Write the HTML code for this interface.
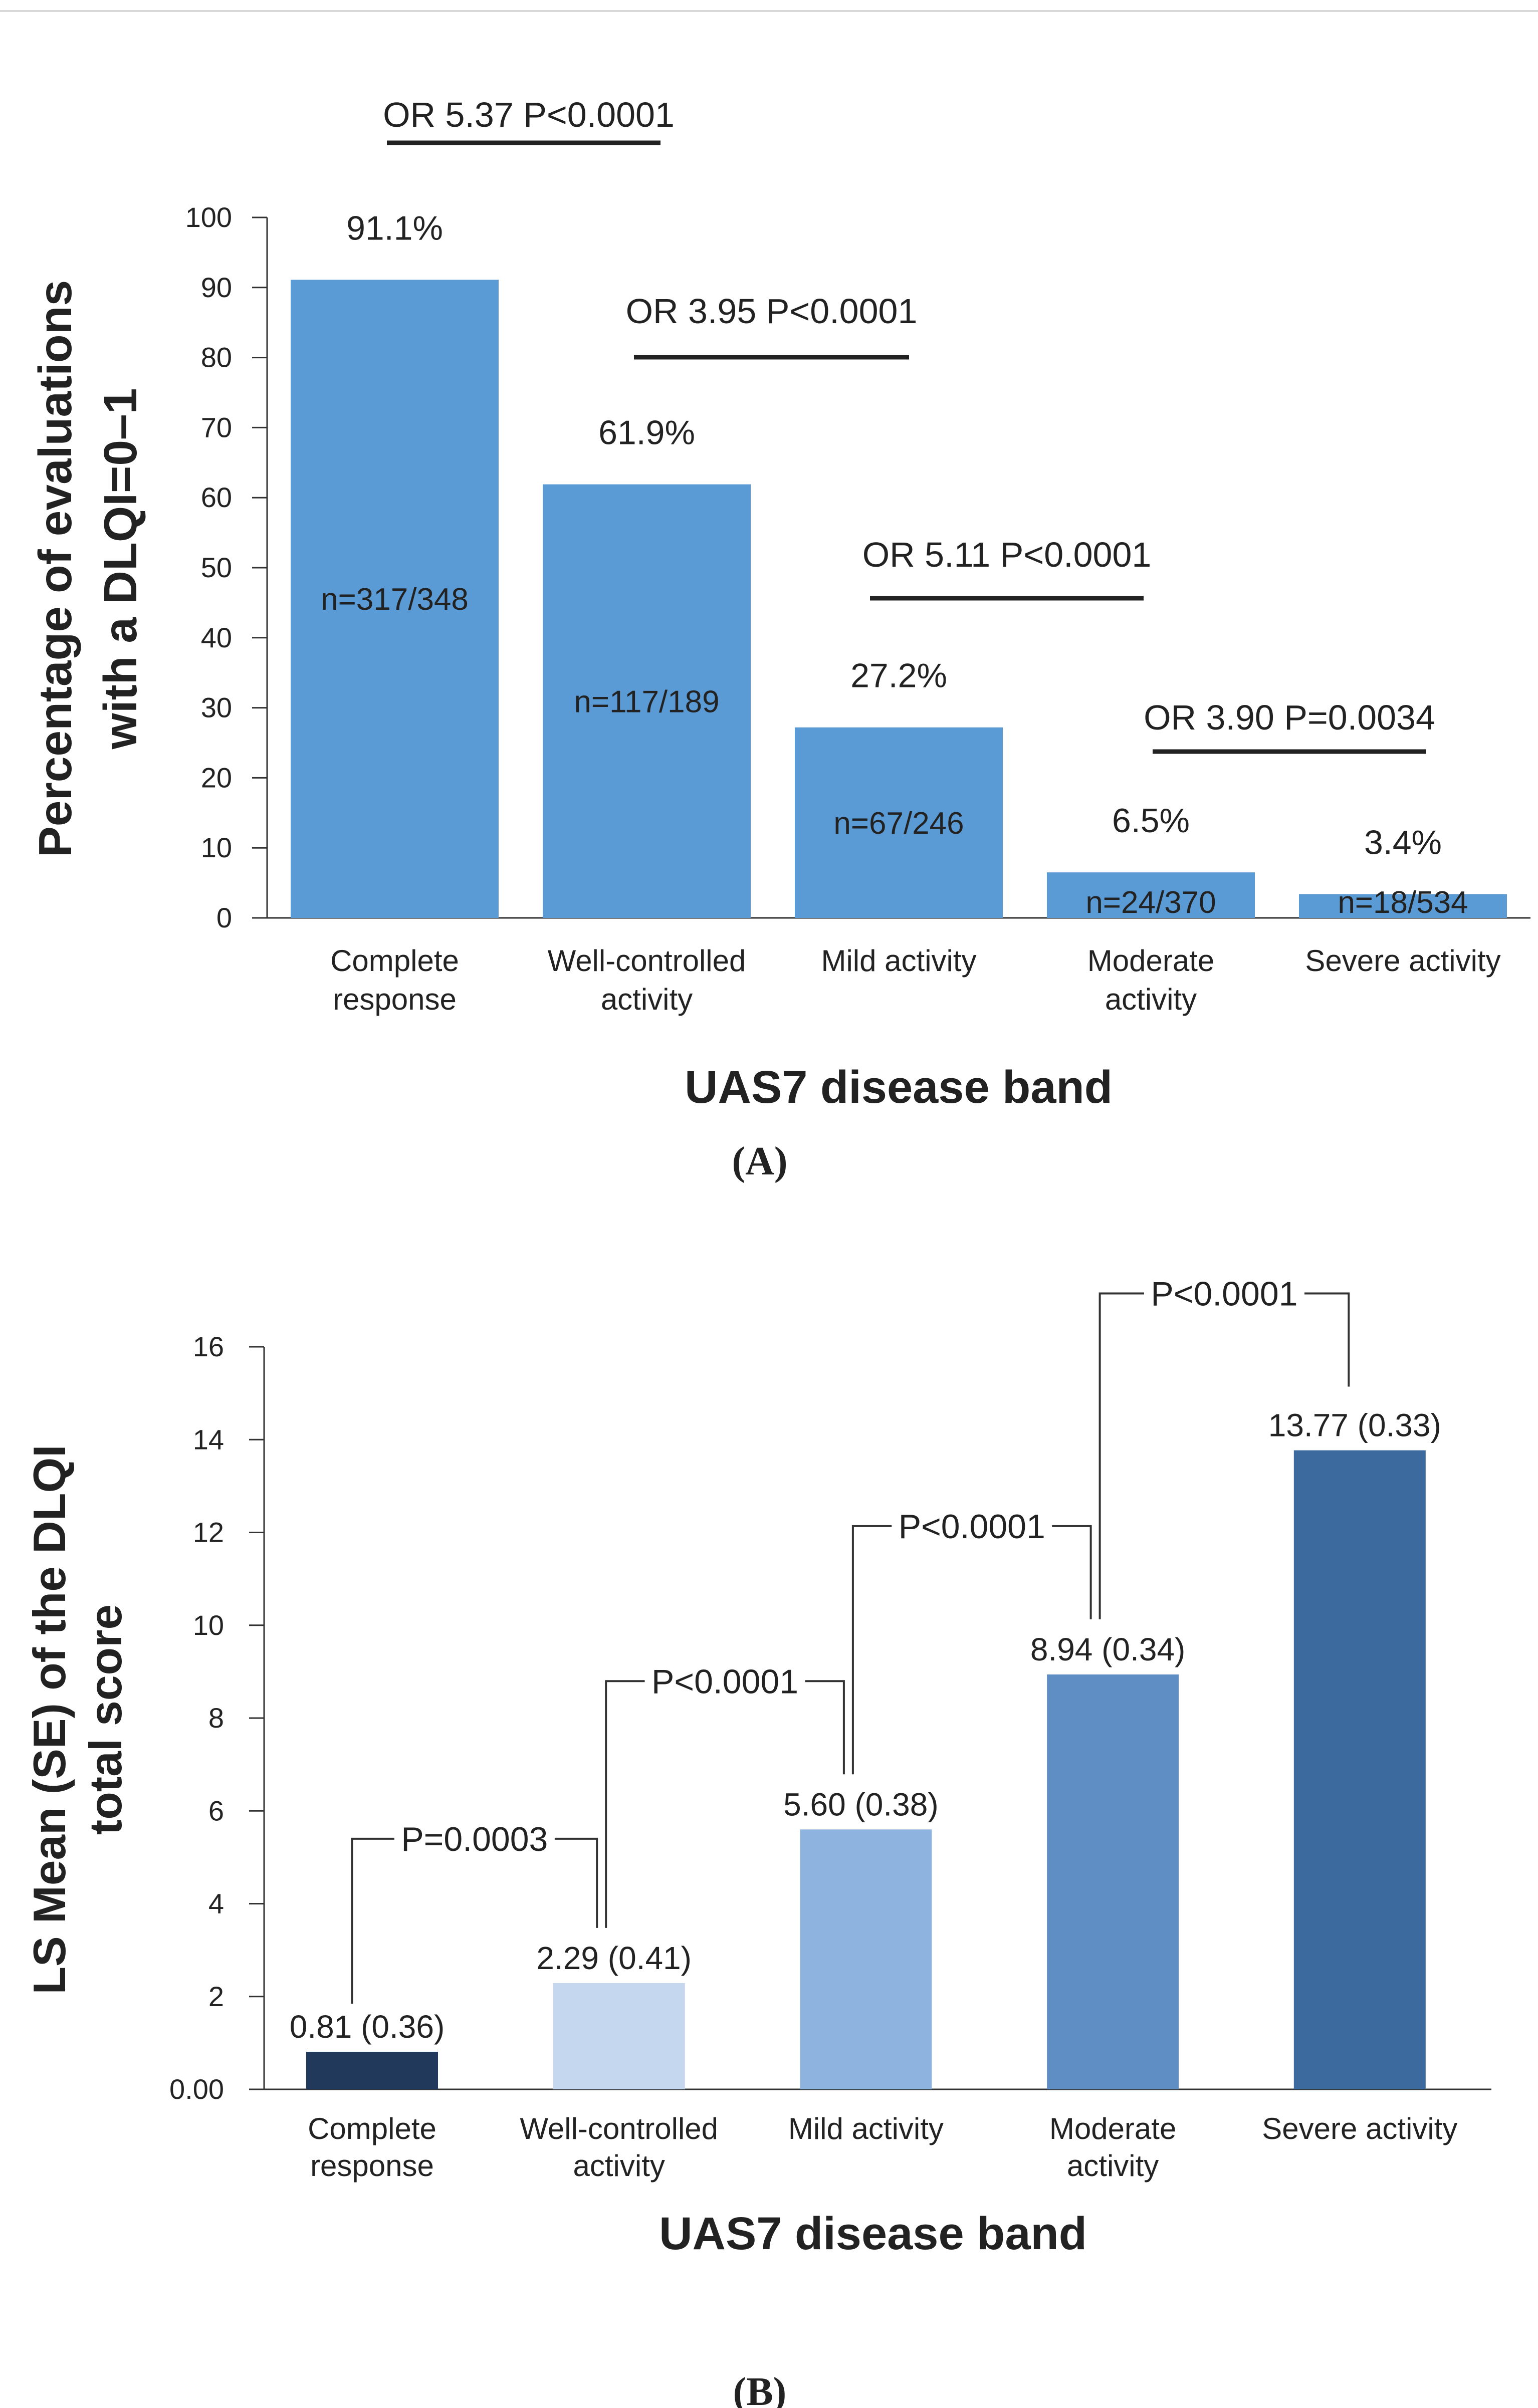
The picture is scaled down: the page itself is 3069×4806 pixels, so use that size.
<!DOCTYPE html>
<html><head><meta charset="utf-8"><style>
html,body{margin:0;padding:0;background:#fff}
svg{display:block}
text{font-family:"Liberation Sans",Arial,sans-serif;fill:#222}
</style></head><body>
<svg id="s" width="3069" height="4806" viewBox="0 0 3069 4806" xmlns="http://www.w3.org/2000/svg">
<line x1="0" y1="22" x2="3069" y2="22" stroke="#d8d8d8" stroke-width="4"/>
<g id="A"></g>
<g id="B"></g>
</svg>
<script>
const catsA = [["Complete","response"],["Well-controlled","activity"],["Mild activity"],["Moderate","activity"],["Severe activity"]];
const valuesA = [91.1, 61.9, 27.2, 6.5, 3.4];
const valueLabelsA = ["91.1%","61.9%","27.2%","6.5%","3.4%"];
const nLabelsA = ["n=317/348","n=117/189","n=67/246","n=24/370","n=18/534"];
const ticksA = [0,10,20,30,40,50,60,70,80,90,100];
const orLabelsA = ["OR 5.37 P<0.0001","OR 3.95 P<0.0001","OR 5.11 P<0.0001","OR 3.90 P=0.0034"];

const catsB = catsA;
const valuesB = [0.81, 2.29, 5.60, 8.94, 13.77];
const seB = ["0.36","0.41","0.38","0.34","0.33"];
const ticksB = [0,2,4,6,8,10,12,14,16];
const pLabelsB = ["P=0.0003","P<0.0001","P<0.0001","P<0.0001"];
const colorsB = ["#213a5c","#c5d6ef","#8db3de","#5f8ec5","#3d6a9e"];

const NS="http://www.w3.org/2000/svg";
function mk(parent,tag,attrs,txt){const e=document.createElementNS(NS,tag);for(const k in attrs)e.setAttribute(k,attrs[k]);if(txt!==undefined)e.textContent=txt;parent.appendChild(e);return e;}

// ---------- Chart A ----------
(function(){
const g=document.getElementById('A');
const x0=533, y0=1832, yTop=434, xEnd=3054;
const yA=v=>y0-(v/100)*(y0-yTop);
const step=503, bw=415, firstL=580;
const bx=i=>firstL+i*step;
const cx=i=>bx(i)+bw/2;
let e=mk(g,'line',{x1:x0,y1:yTop,x2:x0,y2:y0,stroke:'#333','stroke-width':3});

e=mk(g,'line',{x1:x0-30,y1:y0,x2:xEnd,y2:y0,stroke:'#333','stroke-width':3});

ticksA.forEach(t=>{
 const y=yA(t);
 let l=mk(g,'line',{x1:x0-30,y1:y,x2:x0,y2:y,stroke:'#333','stroke-width':3});
 
 let tx=mk(g,'text',{x:x0-70,y:y+19,'font-size':56,'text-anchor':'end'},t);
 
});
valuesA.forEach((v,i)=>{
 let r=mk(g,'rect',{x:bx(i),y:yA(v),width:bw,height:y0-yA(v),fill:'#5b9bd5'});
 
 let t=mk(g,'text',{x:cx(i),y:yA(v)-80,'font-size':68,'text-anchor':'middle'},valueLabelsA[i]);
 
 const ny = v>20 ? yA(v/2)+22 : y0-10;
 let n=mk(g,'text',{x:cx(i),y:ny,'font-size':62,'text-anchor':'middle'},nLabelsA[i]);
 
 catsA[i].forEach((ln,j)=>{
  let c=mk(g,'text',{x:cx(i),y:1938+j*77,'font-size':60,'text-anchor':'middle'},ln);
  
 });
});
const lineYs=[285,713,1194,1500];
const textYs=[253,645,1131,1456];
const lineXs=[[772,1318],[1265,1814],[1736,2282],[2300,2846]];
orLabelsA.forEach((lab,i)=>{
 const xs=lineXs[i], ly=lineYs[i];
 let l=mk(g,'line',{x1:xs[0],y1:ly,x2:xs[1],y2:ly,stroke:'#222','stroke-width':9});
 
 let t=mk(g,'text',{x:(xs[0]+xs[1])/2+(i===0?10:0),y:textYs[i],'font-size':70,'text-anchor':'middle'},lab);
 
});
let t=mk(g,'text',{x:1793,y:2201,'font-size':92,'font-weight':'bold','text-anchor':'middle'},'UAS7 disease band');

t=mk(g,'text',{transform:'translate(142,1135) rotate(-90)','font-size':93,'font-weight':'bold','text-anchor':'middle'},'Percentage of evaluations');

t=mk(g,'text',{transform:'translate(272,1135) rotate(-90)','font-size':93,'font-weight':'bold','text-anchor':'middle'},'with a DLQI=0\u20131');

t=mk(g,'text',{x:1516,y:2344,'font-size':80,'font-weight':'bold','text-anchor':'middle','style':'font-family:"Liberation Serif",serif'},'(A)');

})();

// ---------- Chart B ----------
(function(){
const g=document.getElementById('B');
const x0=527, y0=4170, yTop=2688, xEnd=2976;
const yB=v=>y0-(v/16)*(y0-yTop);
const step=492.7, bw=263, firstL=611;
const bx=i=>firstL+i*step;
const cx=i=>bx(i)+bw/2;
let e=mk(g,'line',{x1:x0,y1:yTop,x2:x0,y2:y0,stroke:'#333','stroke-width':3});

e=mk(g,'line',{x1:x0-30,y1:y0,x2:xEnd,y2:y0,stroke:'#333','stroke-width':3});

ticksB.forEach(tk=>{
 const y=yB(tk);
 let l=mk(g,'line',{x1:x0-30,y1:y,x2:x0,y2:y,stroke:'#333','stroke-width':3});
 
 let tx=mk(g,'text',{x:x0-80,y:y+19,'font-size':56,'text-anchor':'end'},tk===0?'0.00':tk);
 
});
valuesB.forEach((v,i)=>{
 let r=mk(g,'rect',{x:bx(i),y:yB(v),width:bw,height:y0-yB(v),fill:colorsB[i]});
 
 let t=mk(g,'text',{x:cx(i)-10,y:yB(v)-28,'font-size':64,'text-anchor':'middle'},v.toFixed(2)+' ('+seB[i]+')');
 
 catsB[i].forEach((ln,j)=>{
  let c=mk(g,'text',{x:cx(i),y:4269+j*74,'font-size':60,'text-anchor':'middle'},ln);
  
 });
});
pLabelsB.forEach((lab,i)=>{
 const lx=cx(i)-40+(i>0?14:0), rx=cx(i+1)-(i===3?22:44);
 const leftBottom=yB(valuesB[i])-(i===0?96:110);
 const rightBottom=yB(valuesB[i+1])-(i===3?127:110);
 const hy=Math.min(leftBottom,rightBottom)-(i===0?178:186);
 const midx=(lx+rx)/2;
 const half=160;
 let p=mk(g,'path',{d:`M${lx},${leftBottom} L${lx},${hy} L${midx-half},${hy} M${midx+half},${hy} L${rx},${hy} L${rx},${rightBottom}`,fill:'none',stroke:'#333','stroke-width':4});
 
 let t=mk(g,'text',{x:midx,y:hy+24,'font-size':68,'text-anchor':'middle'},lab);
 
});
let t=mk(g,'text',{x:1742,y:4489,'font-size':92,'font-weight':'bold','text-anchor':'middle'},'UAS7 disease band');

t=mk(g,'text',{transform:'translate(130,3432) rotate(-90)','font-size':91,'font-weight':'bold','text-anchor':'middle'},'LS Mean (SE) of the DLQI');

t=mk(g,'text',{transform:'translate(242,3432) rotate(-90)','font-size':91,'font-weight':'bold','text-anchor':'middle'},'total score');

t=mk(g,'text',{x:1516,y:4800,'font-size':80,'font-weight':'bold','text-anchor':'middle','style':'font-family:"Liberation Serif",serif'},'(B)');

})();
</script>
</body></html>
